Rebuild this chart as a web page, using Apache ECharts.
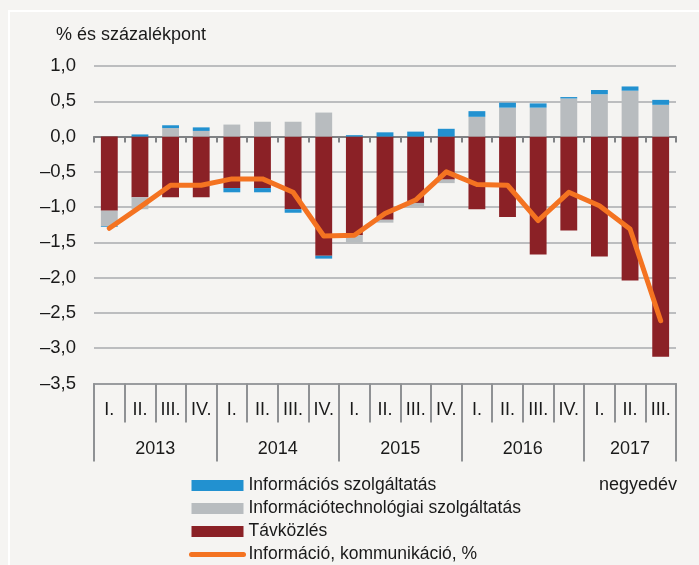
<!DOCTYPE html>
<html>
<head>
<meta charset="utf-8">
<script src="https://cdn.jsdelivr.net/npm/echarts@6/dist/echarts.min.js"></script>
<style>
  html, body { margin: 0; padding: 0; background: #f5f4f2; }
  .com-frame { position: absolute; left: 8px; top: 10px; right: 0; bottom: 0;
    border-left: 2px solid #fff; border-top: 2px solid #fff; }
  .com-chart { position: absolute; left: 0; top: 0; width: 699px; height: 565px; }
</style>
</head>
<body>
<div class="com-frame"></div>
<div class="com-chart" id="chart"></div>
<script>
// negyedévek és évek
const quarters = ['I.','II.','III.','IV.','I.','II.','III.','IV.','I.','II.','III.','IV.','I.','II.','III.','IV.','I.','II.','III.']
const years = ['2013','2014','2015','2016','2017']
const yearCenters = [1.5, 5.5, 9.5, 13.5, 17]
const yearBounds = [-0.5, 3.5, 7.5, 11.5, 15.5, 18.5]

// hozzájárulások, százalékpont
const tavkozles = [-1.05,-0.86,-0.86,-0.86,-0.73,-0.73,-1.03,-1.69,-1.40,-1.18,-0.94,-0.61,-1.03,-1.14,-1.67,-1.33,-1.70,-2.04,-3.12]
const infotech = [-0.22,-0.17,0.12,0.08,0.17,0.21,0.21,0.34,-0.10,-0.04,-0.05,-0.05,0.28,0.41,0.41,0.54,0.60,0.65,0.45]
const infoSzolg = [-0.01,0.03,0.04,0.05,-0.06,-0.06,-0.05,-0.04,0.02,0.06,0.07,0.11,0.08,0.07,0.06,0.02,0.06,0.06,0.07]
// Információ, kommunikáció, %
const osszes = [-1.30,-1.00,-0.69,-0.69,-0.60,-0.60,-0.79,-1.41,-1.40,-1.09,-0.90,-0.50,-0.68,-0.69,-1.19,-0.79,-0.98,-1.31,-2.61]

const FONT = "'Liberation Sans', Arial, sans-serif"
const TXT = '#1a1a1a'

const chartInstance = echarts.init(document.getElementById('chart'), null, {renderer: 'canvas'})

const option = {
  backgroundColor: 'transparent',
  animation: false,
  textStyle: {fontFamily: FONT},
  title: [
    {
      text: '% és százalékpont',
      left: 51,
      top: 21,
      textStyle: {fontFamily: FONT, fontSize: 18, fontWeight: 'normal', color: TXT}
    },
    {
      text: 'negyedév',
      right: 17,
      top: 471,
      textStyle: {fontFamily: FONT, fontSize: 18, fontWeight: 'normal', color: TXT}
    }
  ],
  legend: {
    orient: 'vertical',
    left: 189,
    top: 476,
    itemWidth: 52,
    itemHeight: 11,
    itemGap: 4,
    padding: 0,
    textStyle: {fontFamily: FONT, fontSize: 17.5, lineHeight: 19, color: TXT},
    data: [
      {name: 'Információs szolgáltatás', icon: 'rect'},
      {name: 'Információtechnológiai szolgáltatás', icon: 'rect'},
      {name: 'Távközlés', icon: 'rect'},
      {name: 'Információ, kommunikáció, %', itemStyle: {opacity: 0}, lineStyle: {width: 5, cap: 'round', opacity: 1}}
    ]
  },
  grid: {left: 94, right: 23, top: 66, bottom: 181.5},
  xAxis: [
    {
      // negyedév feliratok, dobozok
      type: 'category',
      data: quarters,
      position: 'bottom',
      axisLine: {onZero: false, lineStyle: {color: '#9a9c9f', width: 2}},
      axisTick: {show: true, interval: 0, length: 39, lineStyle: {color: '#8f9194', width: 2}},
      axisLabel: {interval: 0, margin: 18, fontFamily: FONT, fontSize: 18, color: TXT},
      splitLine: {show: false}
    },
    {
      // nulla vonal
      type: 'category',
      data: quarters,
      position: 'bottom',
      axisLine: {onZero: true, lineStyle: {color: '#808285', width: 2}},
      axisTick: {show: true, interval: 0, length: 6, lineStyle: {color: '#808285', width: 2}},
      axisLabel: {show: false},
      splitLine: {show: false}
    },
    {
      // évek
      type: 'value',
      min: -0.5,
      max: 18.5,
      position: 'bottom',
      axisLine: {show: false, onZero: false},
      axisTick: {show: true, customValues: yearBounds, length: 78, lineStyle: {color: '#8f9194', width: 2}},
      axisLabel: {
        customValues: yearCenters,
        margin: 57,
        fontFamily: FONT, fontSize: 18, color: TXT,
        formatter: v => years[yearCenters.indexOf(v)] || ''
      },
      splitLine: {show: false}
    }
  ],
  yAxis: {
    type: 'value',
    min: -3.5,
    max: 1,
    interval: 0.5,
    axisLine: {show: false, onZero: false},
    axisTick: {show: false},
    axisLabel: {
      margin: 18,
      fontFamily: FONT, fontSize: 18.5, color: TXT,
      formatter: v => (v < 0 ? '–' : '') + Math.abs(v).toFixed(1).replace('.', ',')
    },
    splitLine: {lineStyle: {color: '#a9abae', width: 1.5}}
  },
  series: [
    {
      name: 'Távközlés',
      type: 'bar',
      stack: 'hozz',
      barWidth: '55%',
      itemStyle: {color: '#8b2126'},
      data: tavkozles
    },
    {
      name: 'Információtechnológiai szolgáltatás',
      type: 'bar',
      stack: 'hozz',
      itemStyle: {color: '#b8bcbf'},
      data: infotech
    },
    {
      name: 'Információs szolgáltatás',
      type: 'bar',
      stack: 'hozz',
      itemStyle: {color: '#2291d0'},
      data: infoSzolg
    },
    {
      name: 'Információ, kommunikáció, %',
      type: 'line',
      symbol: 'none',
      color: '#f47321',
      lineStyle: {color: '#f47321', width: 5, cap: 'round', join: 'round'},
      data: osszes,
      z: 5
    }
  ]
}
chartInstance.setOption(option)
</script>
</body>
</html>
